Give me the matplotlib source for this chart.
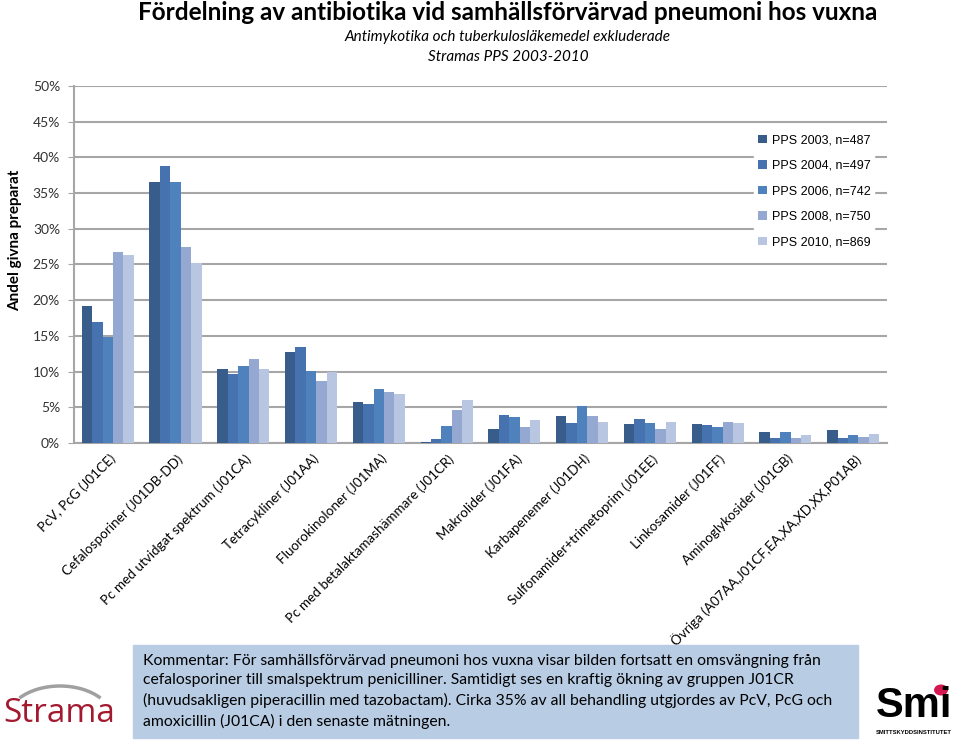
import numpy as np
import matplotlib.pyplot as plt
from matplotlib.patches import Rectangle, Arc, Circle

# data (procent)
kategorier = ['PcV, PcG (J01CE)', 'Cefalosporiner (J01DB-DD)', 'Pc med utvidgat spektrum (J01CA)',
              'Tetracykliner (J01AA)', 'Fluorokinoloner (J01MA)', 'Pc med betalaktamashämmare (J01CR)',
              'Makrolider (J01FA)', 'Karbapenemer (J01DH)', 'Sulfonamider+trimetoprim (J01EE)',
              'Linkosamider (J01FF)', 'Aminoglykosider (J01GB)', 'Övriga (A07AA,J01CF,EA,XA,XD,XX,P01AB)']
serier = ['PPS 2003, n=487', 'PPS 2004, n=497', 'PPS 2006, n=742', 'PPS 2008, n=750', 'PPS 2010, n=869']
pps2003 = [19.2, 36.5, 10.4, 12.8, 5.7, 0.1, 1.9, 3.8, 2.6, 2.6, 1.5, 1.8]
pps2004 = [17.0, 38.8, 9.7, 13.4, 5.5, 0.5, 3.9, 2.8, 3.3, 2.5, 0.7, 0.7]
pps2006 = [14.9, 36.5, 10.8, 10.1, 7.5, 2.4, 3.7, 5.2, 2.8, 2.3, 1.5, 1.1]
pps2008 = [26.7, 27.5, 11.8, 8.7, 7.1, 4.6, 2.3, 3.8, 1.9, 2.9, 0.7, 0.8]
pps2010 = [26.3, 25.2, 10.3, 9.9, 6.9, 6.0, 3.2, 3.0, 2.9, 2.8, 1.1, 1.3]
y_ticks = [0, 5, 10, 15, 20, 25, 30, 35, 40, 45, 50]

farger = ['#385d8a', '#4672af', '#4f81bd', '#95a8d1', '#b9c6e1']
grid_farg = '#a6a6a6'

fig = plt.figure(figsize=(9.6, 7.41), dpi=100)
ax = fig.add_axes([0.077, 0.4022, 0.847, 0.4818])

x = np.arange(len(kategorier))
bredd = 0.154
for i, (namn, varden) in enumerate(zip(serier, [pps2003, pps2004, pps2006, pps2008, pps2010])):
    ax.bar(x + (i - 2) * bredd, varden, bredd, color=farger[i], label=namn, zorder=3)

ax.set_xlim(-0.5, len(kategorier) - 0.5)
ax.set_ylim(0, 50)
ax.set_yticks(y_ticks)
ax.set_yticklabels([f'{v}%' for v in y_ticks], fontsize=10, family='Lato', color='#333333')
ax.yaxis.grid(True, color=grid_farg, linewidth=1.5, zorder=0)
ax.tick_params(axis='y', length=4, color=grid_farg, pad=6)
ax.set_xticks(x)
ax.set_xticklabels([])
ax.tick_params(axis='x', length=0)
for s in ['top', 'right']:
    ax.spines[s].set_visible(False)
ax.spines['left'].set_color(grid_farg)
ax.spines['bottom'].set_color(grid_farg)
ax.spines['left'].set_linewidth(1.5)
ax.spines['bottom'].set_linewidth(1.5)

# kategorinamn snett under axeln
for xi, namn in zip(x, kategorier):
    ax.annotate(namn, (xi, 0), xytext=(4, -10), textcoords='offset points',
                rotation=45, ha='right', va='center', rotation_mode='anchor',
                fontsize=9.7, family='Lato', annotation_clip=False, zorder=5)

fig.text(0.016, 1 - 240 / 741, 'Andel givna preparat', rotation=90, ha='center', va='center',
         fontsize=11, fontweight='bold', family='Lato')

leg = ax.legend(loc='upper left', bbox_to_anchor=(0.779, 0.832), bbox_transform=fig.transFigure,
                frameon=True, fancybox=False, edgecolor='white', framealpha=1,
                prop={'family': 'Liberation Sans', 'size': 9},
                handlelength=0.7, handleheight=0.7, handletextpad=0.4, labelspacing=1.08,
                borderpad=0.3)

# rubriker
fig.text(0.529, 0.983, 'Fördelning av antibiotika vid samhällsförvärvad pneumoni hos vuxna',
         ha='center', va='center', fontsize=17.5, fontweight='bold', family='Lato')
fig.text(0.529, 0.950, 'Antimykotika och tuberkulosläkemedel exkluderade',
         ha='center', va='center', fontsize=11, style='italic', family='Lato')
fig.text(0.529, 0.923, 'Stramas PPS 2003-2010',
         ha='center', va='center', fontsize=11, style='italic', family='Lato')

# kommentarsruta (bakom axlarna så att etiketterna syns)
fig.patches.append(Rectangle((133 / 960, 1 - 738 / 741), 725 / 960, 93 / 741,
                             transform=fig.transFigure, color='#b8cce4', zorder=-1))
kommentar = ('Kommentar: För samhällsförvärvad pneumoni hos vuxna visar bilden fortsatt en omsvängning från\n'
             'cefalosporiner till smalspektrum penicilliner. Samtidigt ses en kraftig ökning av gruppen J01CR\n'
             '(huvudsakligen piperacillin med tazobactam). Cirka 35% av all behandling utgjordes av PcV, PcG och\n'
             'amoxicillin (J01CA) i den senaste mätningen.')
fig.text(143 / 960, 1 - 654 / 741, kommentar, ha='left', va='top', fontsize=11.3,
         family='Lato', linespacing=1.48)

# logotyper
fig.text(3 / 960, 1 - 713 / 741, 'Strama', ha='left', va='center', fontsize=24,
         color='#a3192f', family='Open Sans')
fig.patches.append(Arc((60 / 960, 1 - 720 / 741), 106 / 960, 68 / 741, theta1=35, theta2=145,
                       transform=fig.transFigure, color='#a0a0a0', linewidth=2.5))
fig.text(914 / 960, 1 - 706 / 741, 'Smi', ha='center', va='center', fontsize=30,
         fontweight='bold', color='black', family='Liberation Sans')
fig.patches.append(Circle((941 / 960, 1 - 690 / 741), 0.0065, transform=fig.transFigure,
                          color='#d6174f'))
fig.text(914 / 960, 1 - 733 / 741, 'SMITTSKYDDSINSTITUTET', ha='center', va='center',
         fontsize=4.2, fontweight='bold', family='Liberation Sans')

fig.savefig('out.png', dpi=100)
